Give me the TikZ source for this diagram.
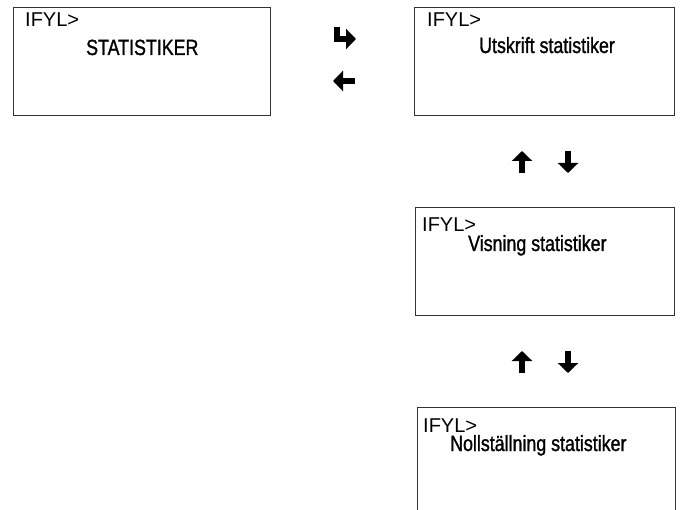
\documentclass[tikz,border=0pt]{standalone}
\usepackage{fontspec}
\setmainfont{Liberation Sans}
\newfontfamily\narrowfont[FakeStretch=0.81,FakeBold=1.2]{Liberation Sans}
\usetikzlibrary{arrows.meta}

\begin{document}
\begin{tikzpicture}[x=1pt,y=-1pt,
  panel/.style={draw=black!80,line width=0.9pt,minimum height=108pt,inner sep=0pt},
  prompt/.style={anchor=base west,inner sep=0pt,font=\fontsize{20}{20}\selectfont},
  menutext/.style={anchor=base west,inner sep=0pt,font=\narrowfont\fontsize{22}{22}\selectfont},
  keyarrow/.style={line width=6pt,-{Triangle[width=20pt,length=10pt]}}]
  \clip (0,0) rectangle (682,510);

  % Displayrutor
  \node[panel,minimum width=257pt] (menu) at (141.5,61) {};
  \node[panel,minimum width=260pt] (print) at (544,61) {};
  \node[panel,minimum width=259pt] (view) at (544.5,261) {};
  \node[panel,minimum width=258pt] (reset) at (546,461) {};

  % Texter i rutorna
  \node[prompt] (p1) at (25,27) {IFYL>};
  \node[menutext] (t1) at (86,55) {STATISTIKER};
  \node[prompt] (p2) at (427,27) {IFYL>};
  \node[menutext] (t2) at (479,53) {Utskrift statistiker};
  \node[prompt] (p3) at (422,232) {IFYL>};
  \node[menutext] (t3) at (468,251) {Visning statistiker};
  \node[prompt] (p4) at (423,432) {IFYL>};
  \node[menutext] (t4) at (450,451) {Nollställning statistiker};

  % Tangentpilar
  \coordinate (enterA) at (337,27);
  \coordinate (enterB) at (337,39);
  \coordinate (enterC) at (356,39);
  \coordinate (backA) at (355,81);
  \coordinate (backB) at (333,81);
  \draw[keyarrow] (enterA) -- (enterB) -- (enterC);
  \draw[keyarrow] (backA) -- (backB);

  \foreach \row in {173,373}{
    \coordinate (upA) at (522,\row);
    \coordinate (upB) at (522,\row-22);
    \coordinate (downA) at (568,\row-22);
    \coordinate (downB) at (568,\row);
    \draw[keyarrow] (upA) -- (upB);
    \draw[keyarrow] (downA) -- (downB);
  }
\end{tikzpicture}
\end{document}
